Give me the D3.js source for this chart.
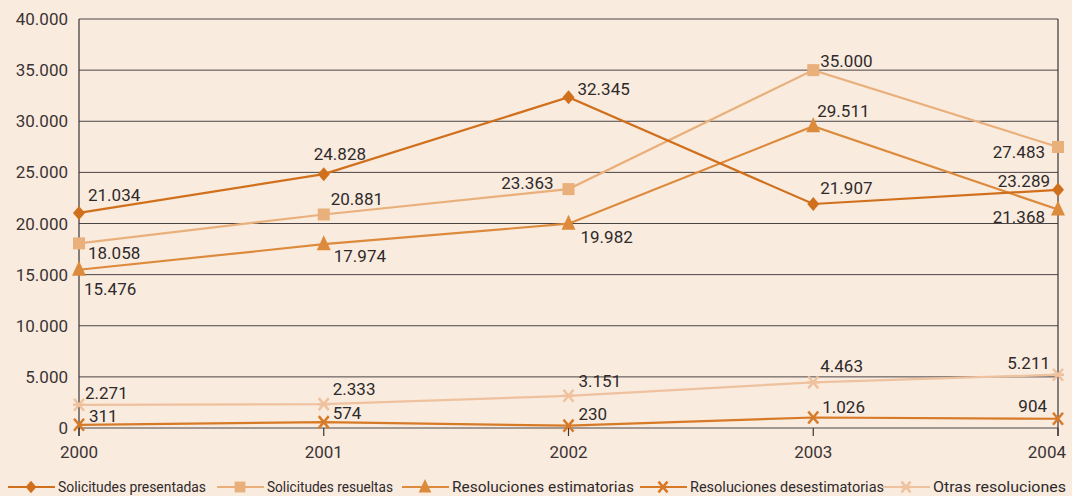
<!DOCTYPE html>
<html><head><meta charset="utf-8">
<script src="https://cdn.jsdelivr.net/npm/d3@7/dist/d3.min.js"></script>
<style>
html,body{margin:0;padding:0;background:#faebdf;}
svg{display:block;font-family:Roboto,"Open Sans",sans-serif;}
</style></head><body>
<svg id="c" width="1072" height="496"></svg>
<script>
const years = ["2000","2001","2002","2003","2004"];
const yTicks = [0,5000,10000,15000,20000,25000,30000,35000,40000];
const seriesNames = ["Solicitudes presentadas","Solicitudes resueltas","Resoluciones estimatorias","Resoluciones desestimatorias","Otras resoluciones"];
const presentadas = [21034,24828,32345,21907,23289];
const resueltas = [18058,20881,23363,35000,27483];
const estimatorias = [15476,17974,19982,29511,21368];
const desestimatorias = [311,574,230,1026,904];
const otras = [2271,2333,3151,4463,5211];

// styling / label placement (not data)
const colors = ["#d0701c","#e9b07c","#dc8a3c","#d77a28","#eec29e"];
const symbols = ["diamond","square","triangle","x","star"];
const labelOffsets = [
  [[9,-12,"start"],[-10,-14,"start"],[9,-2,"start"],[7,-10,"start"],[-8,-3,"end"]],
  [[9,16,"start"],[7,-9,"start"],[-15,0,"end"],[7,-3,"start"],[-13,11,"end"]],
  [[5,25,"start"],[10,18,"start"],[12,19,"start"],[4,-9,"start"],[-13,13,"end"]],
  [[10,-3,"start"],[9,-3,"start"],[10,-6,"start"],[9,-5,"start"],[-11,-7,"end"]],
  [[6,-6,"start"],[9,-9,"start"],[10,-9,"start"],[7,-10,"start"],[-8,-6,"end"]]
];
const legendX = [8,217,402,640,883];
const legendTextW = [148,126,182,194,133];
const allSeries = [presentadas,resueltas,estimatorias,desestimatorias,otras];

const svg = d3.select("#c");
const x = d3.scalePoint().domain(years).range([79,1058]);
const y = d3.scaleLinear().domain([0,40000]).range([428,19]);
const fmt = v => d3.format(",")(v).replace(/,/g,".");

svg.append("g").selectAll("line").data(yTicks).join("line")
  .attr("x1",79).attr("x2",1058).attr("y1",d=>y(d)).attr("y2",d=>y(d))
  .attr("stroke","#4a4444").attr("stroke-width",1);
svg.append("line").attr("x1",79).attr("x2",79).attr("y1",19).attr("y2",436).attr("stroke","#3a3434").attr("stroke-width",1.2);
svg.append("line").attr("x1",1058).attr("x2",1058).attr("y1",19).attr("y2",436).attr("stroke","#3a3434").attr("stroke-width",1.2);
svg.append("g").selectAll("line").data(years).join("line")
  .attr("x1",d=>x(d)).attr("x2",d=>x(d)).attr("y1",428).attr("y2",436)
  .attr("stroke","#3a3434").attr("stroke-width",1.2);
svg.append("g").selectAll("text").data(yTicks).join("text")
  .attr("x",68).attr("y",d=>y(d)+6).attr("text-anchor","end")
  .attr("font-size",17).attr("fill","#3a3434").text(d=>fmt(d));
svg.append("g").selectAll("text").data(years).join("text")
  .attr("x",(d,i)=> i===years.length-1 ? 1066 : x(d)).attr("y",458)
  .attr("text-anchor",(d,i)=> i===years.length-1 ? "end" : "middle")
  .attr("font-size",17).attr("fill","#3a3434").text(d=>d);

function drawSymbol(g, type, cx, cy, color, s){
  s = s||1;
  if(type==="diamond"){
    g.append("path").attr("d",`M${cx},${cy-7*s}L${cx+6*s},${cy}L${cx},${cy+7*s}L${cx-6*s},${cy}Z`).attr("fill",color);
  } else if(type==="square"){
    g.append("rect").attr("x",cx-6*s).attr("y",cy-6*s).attr("width",12*s).attr("height",12*s).attr("fill",color);
  } else if(type==="triangle"){
    g.append("path").attr("d",`M${cx},${cy-9*s}L${cx+7*s},${cy+6*s}L${cx-7*s},${cy+6*s}Z`).attr("fill",color);
  } else if(type==="x"){
    g.append("path").attr("d",`M${cx-5*s},${cy-6*s}L${cx+5*s},${cy+6*s}M${cx+5*s},${cy-6*s}L${cx-5*s},${cy+6*s}`).attr("stroke",color).attr("stroke-width",2.5).attr("fill","none");
  } else if(type==="star"){
    g.append("path").attr("d",`M${cx-5*s},${cy-6*s}L${cx+5*s},${cy+6*s}M${cx+5*s},${cy-6*s}L${cx-5*s},${cy+6*s}M${cx-6*s},${cy}L${cx+6*s},${cy}`).attr("stroke",color).attr("stroke-width",2.5).attr("fill","none");
  }
}

const line = d3.line().x((d,i)=>x(years[i])).y(d=>y(d));
for(let k=allSeries.length-1;k>=0;k--){
  const g = svg.append("g");
  g.append("path").datum(allSeries[k]).attr("d",line).attr("fill","none")
    .attr("stroke",colors[k]).attr("stroke-width",2.2);
  allSeries[k].forEach((v,i)=>drawSymbol(g,symbols[k],x(years[i]),y(v),colors[k]));
}
for(let k=0;k<allSeries.length;k++){
  svg.append("g").selectAll("text").data(allSeries[k]).join("text")
    .attr("x",(d,i)=>x(years[i])+labelOffsets[k][i][0])
    .attr("y",(d,i)=>y(d)+labelOffsets[k][i][1])
    .attr("text-anchor",(d,i)=>labelOffsets[k][i][2])
    .attr("font-size",17).attr("fill","#2e2a2a").text(d=>fmt(d));
}

const leg = svg.append("g");
seriesNames.forEach((name,k)=>{
  const lx = legendX[k];
  const g = leg.append("g");
  g.append("line").attr("x1",lx).attr("x2",lx+47).attr("y1",487).attr("y2",487).attr("stroke",colors[k]).attr("stroke-width",2.2);
  drawSymbol(g,symbols[k],lx+23,487,colors[k],0.9);
  g.append("text").attr("x",lx+50).attr("y",492).attr("font-size",14.5)
    .attr("textLength",legendTextW[k]).attr("lengthAdjust","spacingAndGlyphs")
    .attr("fill","#2e2a2a").text(name);
});
</script>
</body></html>
